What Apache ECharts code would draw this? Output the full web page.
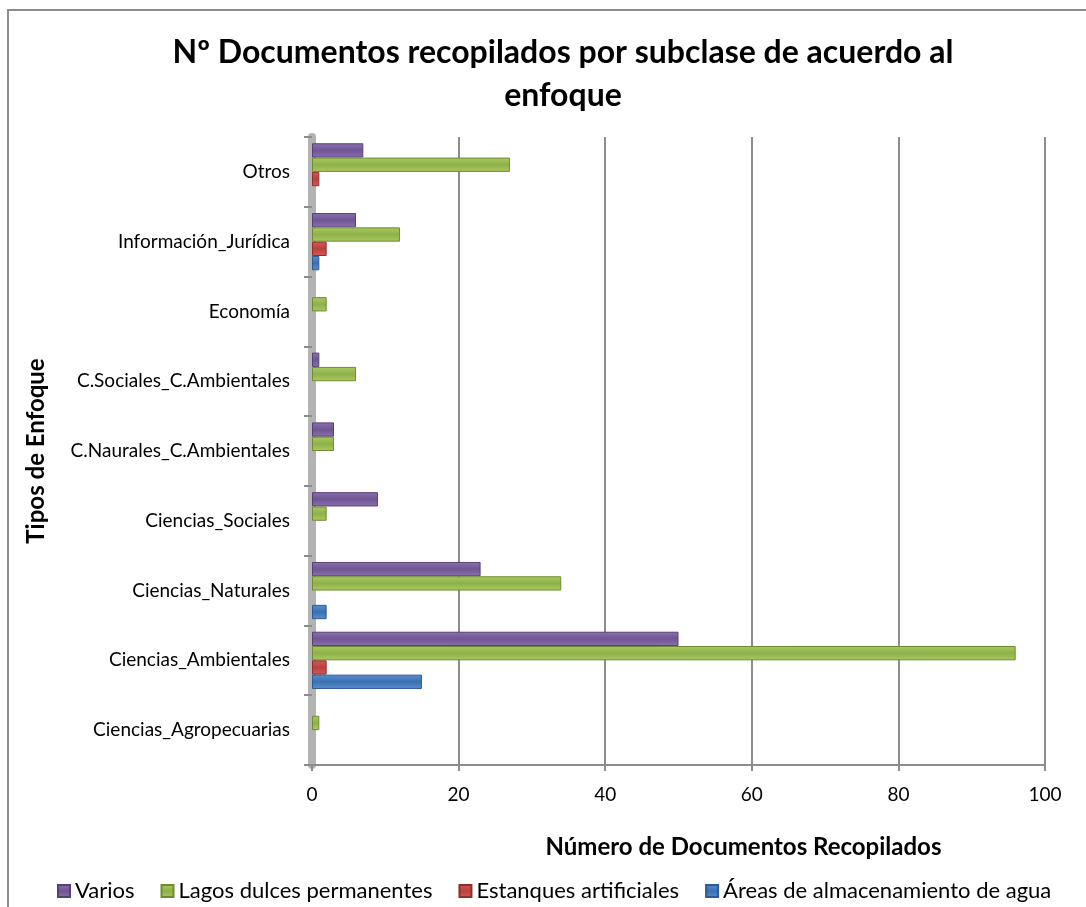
<!DOCTYPE html>
<html>
<head>
<meta charset="utf-8">
<script src="https://cdn.jsdelivr.net/npm/echarts@6/dist/echarts.min.js"></script>
<style>
  html, body { margin: 0; padding: 0; background: #fff; }
  #chart { width: 1086px; height: 907px; }
</style>
</head>
<body>
<div id="chart"></div>
<script>
// categories listed bottom -> top, as ECharts draws a category y axis
const categories = [
  'Ciencias_Agropecuarias',
  'Ciencias_Ambientales',
  'Ciencias_Naturales',
  'Ciencias_Sociales',
  'C.Naurales_C.Ambientales',
  'C.Sociales_C.Ambientales',
  'Economía',
  'Información_Jurídica',
  'Otros'
]
const varios = [0, 50, 23, 9, 3, 1, 0, 6, 7]
const lagos = [1, 96, 34, 2, 3, 6, 2, 12, 27]
const estanques = [0, 2, 0, 0, 0, 0, 0, 2, 1]
const areas = [0, 15, 2, 0, 0, 0, 0, 1, 0]
const xTicks = [0, 20, 40, 60, 80, 100]

const font = 'Lato, "Open Sans", sans-serif'

function grad(light, dark) {
  return new echarts.graphic.LinearGradient(0, 0, 0, 1, [
    { offset: 0, color: light },
    { offset: 0.5, color: dark },
    { offset: 1, color: light }
  ])
}

function barSeries(name, data, light, dark, edge) {
  return {
    name: name,
    type: 'bar',
    data: data.map(v => (v === 0 ? null : v)),
    barGap: '0%',
    barCategoryGap: '18%',
    itemStyle: {
      color: grad(light, dark),
      borderColor: edge,
      borderWidth: 1
    },
    emphasis: { focus: 'series' }
  }
}

const chart = echarts.init(document.getElementById('chart'))
chart.setOption({
  backgroundColor: '#fff',
  animation: false,
  textStyle: { fontFamily: font },
  title: {
    text: 'Nº Documentos recopilados por subclase de acuerdo al\nenfoque',
    left: 558,
    top: 26,
    textAlign: 'center',
    textStyle: {
      fontFamily: font,
      fontSize: 32,
      fontWeight: 'bold',
      color: '#000',
      lineHeight: 43
    }
  },
  legend: {
    left: 52,
    top: 875,
    itemWidth: 12,
    itemHeight: 12,
    itemGap: 26,
    icon: 'rect',
    data: ['Varios', 'Lagos dulces permanentes', 'Estanques artificiales', 'Áreas de almacenamiento de agua'],
    textStyle: { fontFamily: font, fontSize: 22, color: '#000', padding: [0, 0, 0, 0] }
  },
  grid: {
    left: 312,
    right: 41,
    top: 137,
    bottom: 142
  },
  xAxis: {
    type: 'value',
    min: 0,
    max: 100,
    interval: 20,
    name: 'Número de Documentos Recopilados',
    nameLocation: 'middle',
    nameGap: 70,
    nameTextStyle: { fontFamily: font, fontSize: 24, fontWeight: 'bold', color: '#000', padding: [0, 0, 0, 130] },
    axisLine: { show: true, lineStyle: { color: '#8c8c8c', width: 2 } },
    axisTick: { show: true, length: 6, lineStyle: { color: '#8c8c8c', width: 2 } },
    axisLabel: {
      fontFamily: font, fontSize: 19, color: '#000', margin: 20,
      formatter: v => (xTicks.indexOf(v) >= 0 ? String(v) : '')
    },
    splitLine: { show: true, lineStyle: { color: '#8c8c8c', width: 2 } }
  },
  yAxis: {
    type: 'category',
    data: categories,
    name: 'Tipos de Enfoque',
    nameLocation: 'middle',
    nameGap: 264,
    nameRotate: 90,
    nameTextStyle: { fontFamily: font, fontSize: 24, fontWeight: 'bold', color: '#000' },
    axisLine: { show: true, lineStyle: { color: '#b3b3b3', width: 8 } },
    axisTick: { show: true, length: 8, lineStyle: { color: '#8c8c8c', width: 2 } },
    axisLabel: { fontFamily: font, fontSize: 19, color: '#000', margin: 22 }
  },
  series: [
    barSeries('Varios', varios, '#8c70b0', '#6f5594', '#574075'),
    barSeries('Lagos dulces permanentes', lagos, '#a8cb5f', '#8fb04a', '#6d8c33'),
    barSeries('Estanques artificiales', estanques, '#d65a57', '#b8403d', '#8f2e2c'),
    barSeries('Áreas de almacenamiento de agua', areas, '#5a8fd0', '#3a6fb0', '#2c5a93')
  ],
  graphic: [
    {
      type: 'rect',
      shape: { x: 8, y: 10, width: 1200, height: 1000 },
      style: { fill: 'none', stroke: '#8c8c8c', lineWidth: 2 },
      silent: true,
      z: -1
    }
  ]
})
</script>
</body>
</html>
